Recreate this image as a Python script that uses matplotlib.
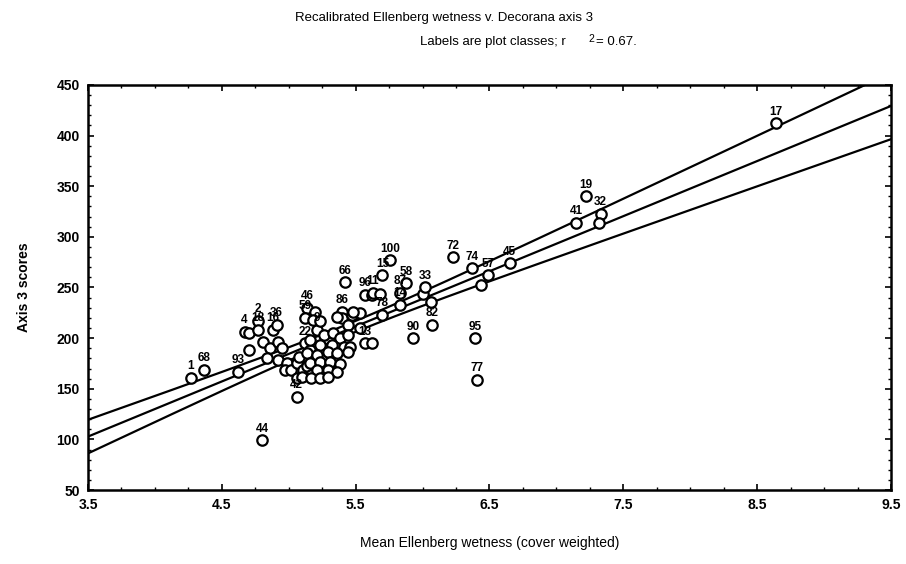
import numpy as np
import matplotlib
matplotlib.use("Agg")
import matplotlib.pyplot as plt
from matplotlib.ticker import MultipleLocator

# Mean Ellenberg wetness (x), Decorana axis 3 score (y), plot class label
wetness = [4.27, 4.37, 4.62, 4.67, 4.70, 4.77, 4.77, 4.88, 4.91, 4.70,
           4.80, 5.06, 4.81, 4.86, 4.92, 4.95, 4.84, 4.92, 4.99, 4.97,
           5.02, 5.06, 5.08, 5.12, 5.16, 5.11, 5.14, 5.17, 5.06, 5.10,
           5.21, 5.14, 5.20, 5.12, 5.18, 5.23, 5.40, 5.40, 5.47, 5.53,
           5.44, 5.57, 5.62, 5.16, 5.26, 5.33, 5.38, 5.44, 5.23, 5.32,
           5.41, 5.46, 5.14, 5.21, 5.29, 5.36, 5.44, 5.16, 5.23, 5.31,
           5.38, 5.21, 5.29, 5.36, 5.17, 5.23, 5.29, 5.57, 5.62, 5.42,
           5.63, 5.68, 5.70, 5.76, 5.88, 5.83, 5.70, 5.83, 5.48, 5.36,
           5.53, 6.00, 6.02, 6.06, 6.07, 5.93, 6.23, 6.37, 6.49, 6.44,
           6.65, 6.39, 6.41, 7.15, 7.22, 7.33, 7.32, 8.64]
axis3 = [161, 169, 167, 206, 205, 217, 208, 208, 213, 188,
         99, 142, 196, 190, 196, 190, 180, 178, 175, 169,
         169, 175, 181, 195, 188, 169, 172, 164, 161, 162,
         208, 230, 226, 220, 218, 217, 226, 220, 223, 225,
         213, 243, 243, 198, 203, 205, 200, 203, 193, 193,
         191, 191, 185, 183, 186, 185, 186, 175, 176, 176,
         174, 169, 169, 167, 161, 161, 162, 195, 195, 255,
         245, 244, 262, 277, 254, 245, 223, 233, 226, 221,
         210, 244, 250, 236, 213, 200, 280, 269, 262, 252,
         274, 200, 159, 314, 340, 323, 314, 412]
labels = ['1', '68', '93', '4', '', '2', '18', '16', '36', '',
          '44', '42', '', '', '', '', '', '', '', '',
          '', '', '', '22', '', '', '', '', '', '',
          '9', '46', '', '59', '', '', '86', '', '', '',
          '', '96', '', '', '', '', '', '', '', '',
          '', '', '', '', '', '', '', '', '', '',
          '', '', '', '', '', '', '', '13', '', '66',
          '11', '', '15', '100', '58', '87', '78', '14', '', '',
          '', '', '33', '', '82', '90', '72', '74', '57', '',
          '45', '95', '77', '41', '19', '32', '', '17']
xticks = [3.5, 4.5, 5.5, 6.5, 7.5, 8.5, 9.5]
yticks = [50, 100, 150, 200, 250, 300, 350, 400, 450]

x = np.array(wetness)
y = np.array(axis3)

# linear fit with 95% confidence band for the mean
n = len(x)
slope, icpt = np.polyfit(x, y, 1)
resid = y - (icpt + slope * x)
s = np.sqrt(np.sum(resid ** 2) / (n - 2))
xs = np.linspace(3.5, 9.5, 200)
fit = icpt + slope * xs
se = s * np.sqrt(1 / n + (xs - x.mean()) ** 2 / np.sum((x - x.mean()) ** 2))
t = 1.985

plt.rcParams['font.family'] = ['Liberation Sans', 'DejaVu Sans']

fig = plt.figure(figsize=(9.06, 5.64), dpi=100)
ax = fig.add_axes([0.0971, 0.1312, 0.8863, 0.7181])

ax.plot(xs, fit, color='black', lw=1.6)
ax.plot(xs, fit + t * se, color='black', lw=1.6)
ax.plot(xs, fit - t * se, color='black', lw=1.6)

ax.plot(x, y, 'o', mfc='white', mec='black', mew=1.6, ms=7.5, zorder=3)
for xi, yi, lab in zip(x, y, labels):
    if lab:
        ax.annotate(lab, (xi, yi), xytext=(0, 4), textcoords='offset points',
                    ha='center', va='bottom', fontsize=8.5,
                    family=['Liberation Sans Narrow', 'Liberation Sans'],
                    fontweight='bold', zorder=4)

ax.set_xlim(3.5, 9.5)
ax.set_ylim(50, 450)
ax.set_xticks(xticks)
ax.set_xticklabels([f'{v:.1f}' for v in xticks])
ax.set_yticks(yticks)
ax.xaxis.set_minor_locator(MultipleLocator(0.25))
ax.yaxis.set_minor_locator(MultipleLocator(10))
ax.tick_params(which='both', direction='in', top=True, right=True)
ax.tick_params(which='major', length=4, width=1.2, labelsize=10, pad=6)
ax.tick_params(which='minor', length=2.5, width=1)
for lab in ax.get_xticklabels() + ax.get_yticklabels():
    lab.set_fontweight('bold')
for sp in ax.spines.values():
    sp.set_linewidth(1.8)

ax.set_xlabel('Mean Ellenberg wetness (cover weighted)', fontsize=10, labelpad=17)
ax.set_ylabel('Axis 3 scores', fontsize=10, fontweight='bold', labelpad=18)

fig.text(0.490, 0.968, 'Recalibrated Ellenberg wetness v. Decorana axis 3',
         ha='center', va='center', fontsize=9.5)
fig.text(0.624, 0.925, 'Labels are plot classes; r', ha='right', va='center',
         fontsize=9.5)
fig.text(0.650, 0.930, '2', ha='left', va='center', fontsize=7.5)
fig.text(0.658, 0.925, '= 0.67.', ha='left', va='center', fontsize=9.5)

fig.savefig('out.png', dpi=100)
